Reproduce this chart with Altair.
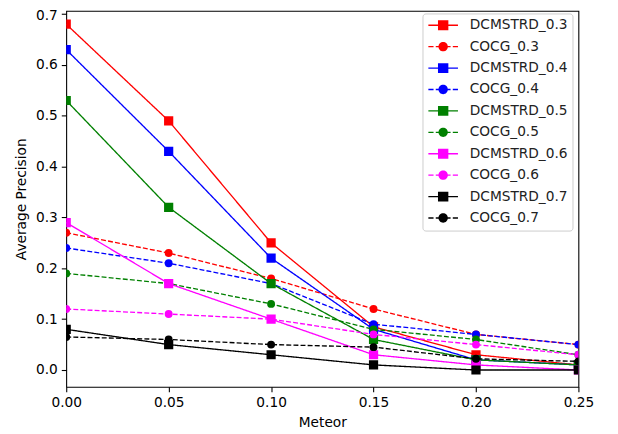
import altair as alt
import pandas as pd

meteor = [0.00, 0.05, 0.10, 0.15, 0.20, 0.25]
series_names = ["DCMSTRD_0.3", "COCG_0.3", "DCMSTRD_0.4", "COCG_0.4", "DCMSTRD_0.5",
                "COCG_0.5", "DCMSTRD_0.6", "COCG_0.6", "DCMSTRD_0.7", "COCG_0.7"]
series_colors = ["#ff0000", "#ff0000", "#0000ff", "#0000ff", "#008000",
                 "#008000", "#ff00ff", "#ff00ff", "#000000", "#000000"]
dcm_03 = [0.68, 0.49, 0.25, 0.085, 0.03, 0.01]
cocg_03 = [0.27, 0.23, 0.18, 0.12, 0.07, 0.05]
dcm_04 = [0.63, 0.43, 0.22, 0.08, 0.02, 0.01]
cocg_04 = [0.24, 0.21, 0.17, 0.09, 0.07, 0.05]
dcm_05 = [0.53, 0.32, 0.17, 0.06, 0.02, 0.01]
cocg_05 = [0.19, 0.17, 0.13, 0.08, 0.06, 0.03]
dcm_06 = [0.29, 0.17, 0.10, 0.03, 0.01, 0.00]
cocg_06 = [0.12, 0.11, 0.10, 0.07, 0.05, 0.03]
dcm_07 = [0.08, 0.05, 0.03, 0.01, 0.00, 0.00]
cocg_07 = [0.065, 0.06, 0.05, 0.045, 0.022, 0.017]
series_values = [dcm_03, cocg_03, dcm_04, cocg_04, dcm_05,
                 cocg_05, dcm_06, cocg_06, dcm_07, cocg_07]
x_ticks = [0.0, 0.05, 0.10, 0.15, 0.20, 0.25]
y_ticks = [0.0, 0.1, 0.2, 0.3, 0.4, 0.5, 0.6, 0.7]

rows = []
for name, vals in zip(series_names, series_values):
    for m, v in zip(meteor, vals):
        rows.append({"series": name, "meteor": m, "ap": v})
df = pd.DataFrame(rows)

FONT = "DejaVu Sans"
FS = 13.9
color_scale = alt.Scale(domain=series_names, range=series_colors)

# legend glyphs: thin filled bars (the line) plus the marker, all filled
t = 0.14
sq = (f"M-3,-{t}H-1V{t}H-3Z"
      f"M1,-{t}H3V{t}H1Z"
      "M-1.05,-1.0H1.05V1.0H-1.05Z")
ci = (f"M-3,-{t}H-1.95V{t}H-3Z"
      f"M-1.5,-{t}H-0.9V{t}H-1.5Z"
      f"M0.9,-{t}H1.5V{t}H0.9Z"
      f"M1.95,-{t}H3V{t}H1.95Z"
      "M0.95,0A0.95,0.95,0,1,1,-0.95,0A0.95,0.95,0,1,1,0.95,0Z")
legend_paths = [sq if n.startswith("DCM") else ci for n in series_names]

x_enc = alt.X("meteor:Q", title="Meteor",
              scale=alt.Scale(domain=[0, 0.25], nice=False, zero=False),
              axis=alt.Axis(values=x_ticks, format=".2f", labelFlush=False, titlePadding=6.5))
y_enc = alt.Y("ap:Q", title="Average Precision",
              scale=alt.Scale(domain=[-0.033, 0.7064], nice=False, zero=False),
              axis=alt.Axis(values=y_ticks, format=".1f", labelFlush=5,
                            labelFlushOffset=5, titlePadding=7))

base = alt.Chart(df)
layers = []
for name in series_names:
    dashed = name.startswith("COCG")
    sub = base.transform_filter(alt.datum.series == name)
    line = sub.mark_line(strokeWidth=1.35, clip=True,
                         strokeDash=[5, 2.2] if dashed else [1, 0]).encode(
        x=x_enc, y=y_enc,
        color=alt.Color("series:N", scale=color_scale, legend=None))
    if dashed:
        pts = sub.mark_circle(size=64, opacity=1, clip=True)
    else:
        pts = sub.mark_square(size=87, opacity=1, clip=True)
    pts = pts.encode(x=x_enc, y=y_enc,
                     color=alt.Color("series:N", scale=color_scale, legend=None))
    layers += [line, pts]

leg = alt.Legend(title=None, orient="none", legendX=361, legendY=2.7,
                 labelFont=FONT, labelFontSize=FS, labelColor="#222222",
                 symbolSize=100, symbolStrokeWidth=0, symbolStrokeColor="transparent",
                 symbolOffset=9, labelOffset=20, rowPadding=6.7, padding=5,
                 strokeColor="#cccccc", fillColor="white", cornerRadius=3)

legend_layer = base.transform_filter("datum.ap < -10").mark_point(
    filled=True, opacity=1).encode(
    x=x_enc, y=y_enc,
    color=alt.Color("series:N", scale=color_scale, legend=leg),
    shape=alt.Shape("series:N", scale=alt.Scale(domain=series_names, range=legend_paths), legend=leg),
)
layers.append(legend_layer)

chart = alt.layer(*layers).resolve_legend(
    color="independent", shape="independent"
).properties(
    width=519, height=381,
    autosize=alt.AutoSizeParams(type="none"),
    padding={"left": 59, "top": 0, "right": 32, "bottom": 44},
).configure_view(
    stroke="black", strokeWidth=1.1
).configure_axis(
    grid=False, domain=False, labelFont=FONT, labelFontSize=FS, labelColor="black",
    titleFont=FONT, titleFontSize=FS, titleFontWeight="normal", titleColor="black",
    tickColor="black", tickSize=5, tickWidth=1.1, labelPadding=4,
)

chart.save("out.html", embed_options={"renderer": "svg", "actions": False})
